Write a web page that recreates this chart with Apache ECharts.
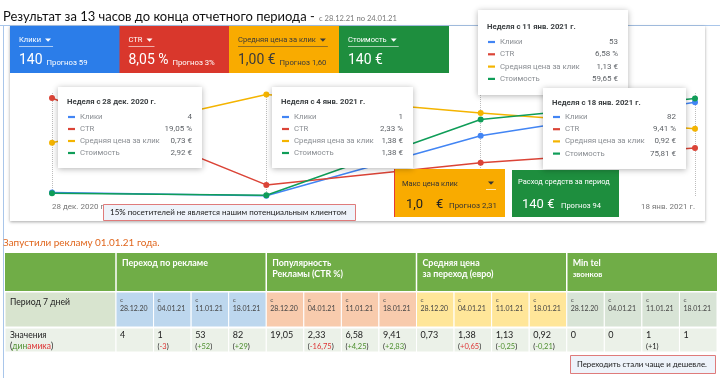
<!DOCTYPE html>
<html><head><meta charset="utf-8">
<script src="https://cdn.jsdelivr.net/npm/echarts@6/dist/echarts.min.js"></script>
<style>html,body{margin:0;padding:0;background:#fff}#c{width:720px;height:378px}</style>
</head><body><div id="c"></div>
<script>
// ---------- data ----------
const weeks = ['28 дек. 2020 г.', '4 янв. 2021 г.', '11 янв. 2021 г.', '18 янв. 2021 г.'];
const seriesNames = ['Клики', 'CTR', 'Средняя цена за клик', 'Стоимость'];
const clicks = [4, 1, 53, 82];
const ctr = [19.05, 2.33, 6.58, 9.41];
const cpc = [0.73, 1.38, 1.13, 0.92];
const cost = [2.92, 1.38, 59.65, 75.81];
const axisMax = [90, 20, 1.4, 80];

const kpiLabels = ['Клики', 'CTR', 'Средняя цена за клик', 'Стоимость'];
const kpiValues = ['140', '8,05 %', '1,00 €', '140 €'];
const kpiForecasts = ['Прогноз 59', 'Прогноз 3%', 'Прогноз 1,60', ''];

const maxCpcLabel = 'Макс цена клик';
const maxCpcValue = ['1,0', '€'];
const maxCpcForecast = 'Прогноз 2,31';
const spendLabel = 'Расход средств за период';
const spendValue = '140 €';
const spendForecast = 'Прогноз 94';

const titleText = 'Результат за 13 часов до конца отчетного периода -';
const subtitleText = 'с 28.12.21 по 24.01.21';
const note1 = '15% посетителей не является нашим потенциальным клиентом';
const launchText = 'Запустили рекламу 01.01.21 года.';
const note2 = 'Переходить стали чаще и дешевле.';

const periods = ['28.12.20', '04.01.21', '11.01.21', '18.01.21'];
const groupTitles = [['Переход по рекламе'], ['Популярность', 'Рекламы (CTR %)'], ['Средняя цена', 'за переход (евро)'], ['Min tel', 'звонков']];
const calls = [0, 0, 1, 1];
const deltas = [
  ['', '-3', '+52', '+29'],
  ['', '-16,75', '+4,25', '+2,83'],
  ['', '+0,65', '-0,25', '-0,21'],
  ['', '', '+1', '']
];
const deltaTone = [
  ['', 'r', 'g', 'g'],
  ['', 'r', 'g', 'g'],
  ['', 'r', 'g', 'g'],
  ['', '', 'n', '']
];

// ---------- helpers ----------
const RB = 'Roboto', TF = 'Lato';
const lineColors = ['#4285f4', '#db4437', '#f4b400', '#0f9d58'];
const cv = document.createElement('canvas').getContext('2d');
function tw(s, size, font, bold) { cv.font = (bold ? 'bold ' : '') + size + 'px ' + font; return cv.measureText(s).width; }
function fit(s, target, font, bold) { return 10 * target / tw(s, 10, font, bold); }
const dec = v => v.toFixed(2).replace('.', ',');
const fmt = [v => String(v), v => dec(v) + ' %', v => dec(v) + ' €', v => dec(v) + ' €'];
const allSeries = [clicks, ctr, cpc, cost];

const G = [];
function rect(x, y, w, h, style, z) { G.push({ type: 'rect', shape: { x, y, width: w, height: h }, style, z: z == null ? 50 : z, silent: true }); }
function txt(x, y, text, size, fill, o) {
  o = o || {};
  const st = { text, fontSize: size, fill, fontFamily: o.font || RB, fontWeight: o.bold ? 'bold' : 'normal', align: o.align || 'left', verticalAlign: 'middle' };
  if (o.rich) st.rich = o.rich;
  G.push({ type: 'text', x, y, z: o.z == null ? 60 : o.z, silent: true, style: st });
}
function line(x1, y1, x2, y2, stroke, w, z, dash) { G.push({ type: 'line', shape: { x1, y1, x2, y2 }, style: { stroke, lineWidth: w, lineDash: dash || null }, z: z == null ? 55 : z, silent: true }); }
function tri(x, y, fill, z) { G.push({ type: 'polygon', shape: { points: [[x, y - 1.5], [x + 6, y - 1.5], [x + 3, y + 1.8]] }, style: { fill }, z: z == null ? 60 : z, silent: true }); }

// ---------- page frame ----------
line(0, 25.5, 720, 25.5, '#a9c6ea', 1, 1);
line(3.5, 25, 3.5, 378, '#a9c6ea', 1, 1);
const tSize = fit(titleText, 312, TF);
txt(3, 17, titleText, tSize, '#111', { font: TF });
txt(319, 19, subtitleText, fit(subtitleText, 78, TF), '#777', { font: TF });

// chart card
rect(10, 26, 695, 195, { fill: '#fff', shadowBlur: 3, shadowColor: 'rgba(0,0,0,0.35)', shadowOffsetY: 1 }, 2);

// KPI cards
const kpiColors = ['#2b7de9', '#d9372c', '#f9ab00', '#1e8e3e'];
const kpiFg = ['#fff', '#fff', '#3a3a3a', '#fff'];
const kx = [10, 119.5, 229, 339];
const kLabSize = fit('Средняя цена за клик', 78, RB);
const kValSize = fit('8,05 %', 40, RB);
const kFcSize = fit('Прогноз 1,60', 47, RB);
for (let i = 0; i < 4; i++) {
  const x = kx[i];
  rect(x, 26, 110, 47, { fill: kpiColors[i] }, 40);
  txt(x + 9, 40, kpiLabels[i], kLabSize, kpiFg[i], {});
  const lw = tw(kpiLabels[i], kLabSize, RB);
  tri(x + 9 + lw + 4, 40, kpiFg[i]);
  line(x + 9, 46.5, x + 9 + lw + 12, 46.5, i === 2 ? 'rgba(60,60,60,0.55)' : 'rgba(255,255,255,0.6)', 1, 60);
  txt(x + 9, 61, kpiValues[i], kValSize, kpiFg[i], {});
  const vw = tw(kpiValues[i], kValSize, RB);
  if (kpiForecasts[i]) txt(x + 9 + vw + 4, 63, kpiForecasts[i], kFcSize, kpiFg[i], {});
}

// tooltips
const ttLab = fit('Средняя цена за клик', 80, RB);
function tooltip(idx, x, y, w, h, titleY, rowY0, rowGap) {
  rect(x, y, w, h, { fill: '#fff', shadowBlur: 6, shadowColor: 'rgba(0,0,0,0.3)', shadowOffsetY: 1 }, 100);
  txt(x + 9, y + titleY, 'Неделя с ' + weeks[idx], fit('Неделя с 28 дек. 2020 г.', 89, RB, true), '#3c4043', { bold: true, z: 101 });
  for (let s = 0; s < 4; s++) {
    const ry = y + rowY0 + s * rowGap;
    line(x + 10, ry, x + 17, ry, lineColors[s], 2.2, 101);
    txt(x + 22, ry, seriesNames[s], ttLab, '#8a8e93', { z: 101 });
    txt(x + w - 10, ry, fmt[s](allSeries[s][idx]), 8, '#5f6368', { align: 'right', z: 101 });
  }
}
tooltip(0, 58, 87, 144, 81, 15, 30, 12);
tooltip(1, 272, 87, 141, 81, 15, 30, 12);
tooltip(2, 478, 10, 150, 85, 17, 32, 12.3);
tooltip(3, 543, 88, 143, 81, 15, 29, 12.2);

// Max CPC box
rect(394, 169, 111, 48, { fill: '#f9ab00' }, 90);
line(394.5, 169, 394.5, 217, '#e53935', 1, 91);
txt(402, 184, maxCpcLabel, fit(maxCpcLabel, 56, RB), '#333', { z: 92 });
tri(488, 183, '#333', 92);
line(486, 189.5, 496, 189.5, 'rgba(255,255,255,0.7)', 1, 92);
txt(406, 205, maxCpcValue[0], 13, '#222', { z: 92 });
txt(436, 205, maxCpcValue[1], 13, '#222', { z: 92 });
txt(449, 206, maxCpcForecast, fit(maxCpcForecast, 48, RB), '#333', { z: 92 });

// Spend box
rect(512, 170, 107, 47, { fill: '#1e8e3e' }, 90);
txt(518, 182, spendLabel, fit(spendLabel, 92, RB), '#fff', { z: 92 });
txt(522, 205, spendValue, 13, '#fff', { z: 92 });
txt(561, 206, spendForecast, fit(spendForecast, 40, RB), '#fff', { z: 92 });

// note 1
rect(103.5, 204.5, 252, 16, { fill: '#eef3fa', stroke: '#df7b7b', lineWidth: 1 }, 95);
txt(110, 212.5, note1, fit(note1, 237, TF), '#1a1a1a', { font: TF, z: 96 });

// launch text
txt(3, 243, launchText, fit(launchText, 157, TF), '#e0661d', { font: TF });

// ---------- table ----------
const cw = (717 - 116) / 16;
const colX = k => 116 + k * cw;
const subFill = ['#bdd7ee', '#f8cbad', '#ffe699', '#d8e4d6'];
// header
rect(5, 253, 712, 38, { fill: '#70ad47' }, 10);
[116, colX(4), colX(8), colX(12)].forEach(x => line(x, 253, x, 291, '#fff', 1.5, 12));
for (let g = 0; g < 4; g++) {
  const gx = colX(4 * g) + 6;
  const hs = fit('Переход по рекламе', 86, TF, true);
  groupTitles[g].forEach((t, j) => txt(gx, 263 + j * 11, t, (g === 3 && j === 1) ? hs * 0.9 : hs, '#fff', { font: TF, bold: true }));
}
// row 2
rect(5, 292, 111, 35, { fill: '#d8e4cf', stroke: '#fff', lineWidth: 1 }, 10);
txt(10, 302, 'Период 7 дней', fit('Период 7 дней', 60, TF), '#222', { font: TF });
// row 3
rect(5, 328, 111, 24, { fill: '#ebf1e8', stroke: '#fff', lineWidth: 1 }, 10);
txt(10, 335, 'Значения', 8.5, '#222', { font: TF });
txt(10, 346, '{d|(}{g|дин}{r|амика}{d|)}', 8.5, '#222', { font: TF, rich: { d: { fill: '#222', fontSize: 8.5, fontFamily: TF }, g: { fill: '#4e8f2f', fontSize: 8.5, fontFamily: TF }, r: { fill: '#d33', fontSize: 8.5, fontFamily: TF } } });

const groupVals = [clicks.map(String), ctr.map(dec), cpc.map(dec), calls.map(String)];
const toneColor = { r: '#d33', g: '#4e8f2f', n: '#222' };
for (let g = 0; g < 4; g++) {
  for (let p = 0; p < 4; p++) {
    const k = g * 4 + p;
    const x = colX(k);
    rect(x, 292, cw, 35, { fill: subFill[g], stroke: '#fff', lineWidth: 1 }, 10);
    rect(x, 328, cw, 24, { fill: '#ebf1e8', stroke: '#fff', lineWidth: 1 }, 10);
    txt(x + 4, 300, 'с', 6.5, '#555', { font: TF });
    txt(x + 4, 309, periods[p], 7, '#444', { font: TF });
    txt(x + 4, 335, groupVals[g][p], 9, '#222', { font: TF });
    const d = deltas[g][p];
    if (d) {
      const c = toneColor[deltaTone[g][p]];
      txt(x + 4, 347, '{d|(}{v|' + d + '}{d|)}', 7.5, '#222', { font: TF, rich: { d: { fill: '#222', fontSize: 7.5, fontFamily: TF }, v: { fill: c, fontSize: 7.5, fontFamily: TF } } });
    }
  }
}
// note 2
rect(570.5, 355.5, 145, 18, { fill: '#eef3fa', stroke: '#df7b7b', lineWidth: 1 }, 20);
txt(577, 364.5, note2, fit(note2, 130, TF), '#1a1a1a', { font: TF, z: 21 });

// ---------- chart ----------
const chart = echarts.init(document.getElementById('c'), null, { renderer: 'canvas' });
const yAxes = axisMax.map((m, i) => i === 0 ? {
  type: 'value', min: 0, max: m, interval: m / 2, axisLabel: { show: false }, axisLine: { show: false }, axisTick: { show: false },
  splitLine: { show: true, lineStyle: { color: '#e3e3e3', width: 1 } }
} : { type: 'value', min: 0, max: m, show: false, splitLine: { show: false } });

chart.setOption({
  animation: false,
  grid: { left: 52, right: 25, top: 93, height: 104, z: 5 },
  xAxis: {
    type: 'category', data: weeks, boundaryGap: false, z: 5,
    axisLine: { show: false }, axisTick: { show: false },
    splitLine: { show: true, lineStyle: { type: 'dotted', color: '#bdbdbd' } },
    axisLabel: { interval: 0, margin: 6, fontSize: 8, color: '#777', fontFamily: RB,
      formatter: (v, i) => (i === 0 || i === weeks.length - 1) ? v : '',
      alignMinLabel: 'left', alignMaxLabel: 'right' }
  },
  yAxis: yAxes,
  series: allSeries.map((d, i) => ({
    name: seriesNames[i], type: 'line', data: d, yAxisIndex: i, z: 6,
    symbol: 'circle', symbolSize: 6, showSymbol: true,
    lineStyle: { width: 1.5, color: lineColors[i] }, itemStyle: { color: lineColors[i] },
    emphasis: { disabled: true }, silent: true
  })),
  graphic: { elements: G }
});
</script></body></html>
